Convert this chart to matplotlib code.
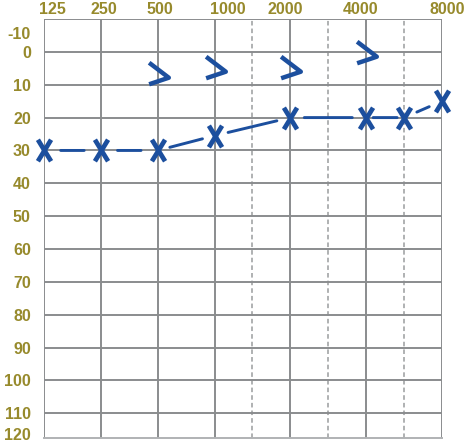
import numpy as np
import matplotlib
matplotlib.use("Agg")
import matplotlib.pyplot as plt
from matplotlib.path import Path

# ---- data ----
grid_freqs = [125, 250, 500, 1000, 1500, 2000, 3000, 4000, 6000, 8000]
octave_freqs = [125, 250, 500, 1000, 2000, 4000, 8000]
half_freqs = [1500, 3000, 6000]
freq_labels = ["125", "250", "500", "1000", "2000", "4000", "8000"]
db_ticks = [0, 10, 20, 30, 40, 50, 60, 70, 80, 90, 100, 110]

air_freqs = [125, 250, 500, 1000, 2000, 4000, 6000, 8000]
air_db = [30, 30, 30, 25.5, 20, 20, 20, 15]

bone_freqs = [500, 1000, 2000, 4000]
bone_db = [6.5, 4.5, 4.5, 0]

# ---- style ----
grid_pos = [0, 1.5, 3, 4.5, 5.5, 6.5, 7.5, 8.5, 9.5, 10.5]
label_offsets_px = [8, 3, 2, 13, -5, -6, 5]
seg_shrink = [12, 12, 9, 10, 10, 5, 10]
BLUE = "#1c4f9e"
OLIVE = "#978a2c"
GRID = "#8a8c8e"
DPI = 100

def fwd(f):
    f = np.asarray(f, dtype=float)
    return np.interp(np.log2(np.clip(f, 1e-9, None)), np.log2(grid_freqs), grid_pos)

def inv(p):
    p = np.asarray(p, dtype=float)
    return 2 ** np.interp(p, grid_pos, np.log2(grid_freqs))

fig = plt.figure(figsize=(466 / DPI, 445 / DPI), dpi=DPI)
L, R, T, B = 44, 442, 19, 438
ax = fig.add_axes([L / 466, 1 - B / 445, (R - L) / 466, (B - T) / 445])
ax.set_xscale("function", functions=(fwd, inv))
ax.set_xlim(125, 8000)
ax.set_ylim(117.5, -10)

for f in octave_freqs:
    ax.axvline(f, color=GRID, lw=1.4, zorder=1)
for f in half_freqs:
    ax.axvline(f, color="#9a9c9e", lw=1.1, ls=(0, (3, 2)), zorder=1)
for d in [-10] + db_ticks:
    ax.axhline(d, color=GRID, lw=1.4, zorder=1)

for s in ["left", "right", "top"]:
    ax.spines[s].set_visible(False)
ax.spines["bottom"].set_color("#b0b2b4")
ax.spines["bottom"].set_linewidth(1.4)

ax.set_xticks([])
ax.set_xticks([], minor=True)
ax.set_yticks(db_ticks)
ax.set_yticklabels([str(d) for d in db_ticks])
ax.tick_params(axis="y", length=0, pad=9.5, labelsize=11.5, labelcolor=OLIVE)
for t in ax.get_yticklabels():
    t.set_fontweight("bold")
    t.set_fontfamily("Liberation Sans")

ax.annotate("-10", xy=(0, -10), xycoords=("axes fraction", "data"),
            xytext=(-9.5, -11), textcoords="offset points", ha="right", va="center",
            fontsize=11.5, fontweight="bold", color=OLIVE, family="Liberation Sans")
ax.annotate("120", xy=(0, 117.5), xycoords=("axes fraction", "data"),
            xytext=(-9.5, 2), textcoords="offset points", ha="right", va="center",
            fontsize=11.5, fontweight="bold", color=OLIVE, family="Liberation Sans")

for f, lab, off in zip(octave_freqs, freq_labels, label_offsets_px):
    ax.annotate(lab, xy=(f, 1), xycoords=("data", "axes fraction"),
                xytext=(off * 72 / DPI, 1.5), textcoords="offset points",
                ha="center", va="bottom", fontsize=11.5, fontweight="bold",
                color=OLIVE, family="Liberation Sans", annotation_clip=False)

# connecting segments with gaps
for i in range(len(air_freqs) - 1):
    ax.annotate("", xy=(air_freqs[i + 1], air_db[i + 1]), xytext=(air_freqs[i], air_db[i]),
                arrowprops=dict(arrowstyle="-", color=BLUE, lw=2.1,
                                shrinkA=seg_shrink[i], shrinkB=seg_shrink[i]),
                zorder=3)

x_marker = Path([(-5.5, -9), (5.5, 9), (-5.5, 9), (5.5, -9)],
                [Path.MOVETO, Path.LINETO, Path.MOVETO, Path.LINETO])
ax.plot(air_freqs, air_db, ls="none", marker=x_marker, ms=15.5, mew=3.4,
        mec=BLUE, mfc="none", zorder=4, clip_on=False)

gt_marker = Path([(-10, 11.5), (11, -4.5), (-10, -11.5)],
                 [Path.MOVETO, Path.LINETO, Path.LINETO])
ax.plot(bone_freqs, bone_db, ls="none", marker=gt_marker, ms=15.5, mew=3.2,
        mec=BLUE, mfc="none", zorder=4)

fig.savefig("out.png", dpi=DPI, facecolor="white")
